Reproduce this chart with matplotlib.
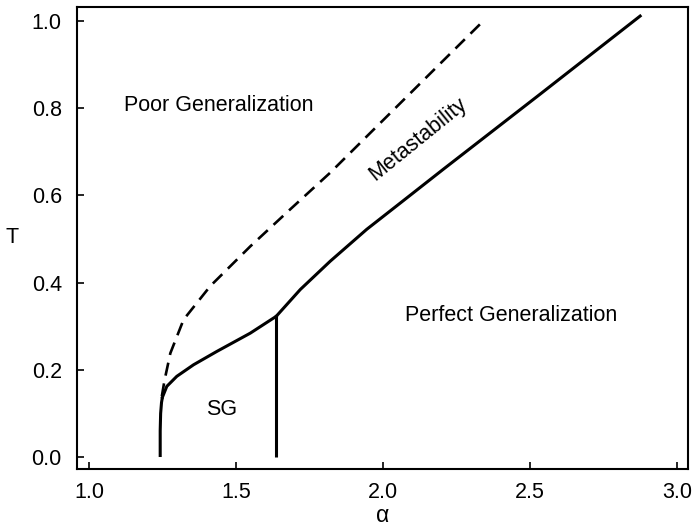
import matplotlib
matplotlib.use("Agg")
import matplotlib.pyplot as plt

plt.rcParams['font.family'] = ['Liberation Sans', 'DejaVu Sans']

# phase boundaries in the (alpha, T) plane
sg_left_a = [1.2415, 1.2415, 1.243, 1.246, 1.249]
sg_left_t = [0.0, 0.06, 0.10, 0.125, 0.137]

sg_top_a = [1.249, 1.264, 1.298, 1.355, 1.434, 1.548, 1.636]
sg_top_t = [0.137, 0.162, 0.185, 0.2115, 0.242, 0.284, 0.3225]

sg_right_a = [1.636, 1.636]
sg_right_t = [0.0, 0.3225]

perfect_a = [1.636, 1.718, 1.820, 1.944, 2.069, 2.205, 2.534, 2.874]
perfect_t = [0.3225, 0.384, 0.449, 0.522, 0.588, 0.660, 0.832, 1.011]

spinodal_a = [1.247, 1.256, 1.276, 1.321, 1.412, 1.548, 1.684, 1.820, 1.956, 2.194, 2.341]
spinodal_t = [0.139, 0.175, 0.238, 0.315, 0.392, 0.483, 0.568, 0.652, 0.743, 0.902, 1.0]

fig = plt.figure(figsize=(6.95, 5.3), dpi=100)
ax = fig.add_axes([0.111, 0.115, 0.879, 0.872])

lw = 2.2
ax.plot(sg_left_a, sg_left_t, color='black', lw=lw, solid_capstyle='butt')
ax.plot(sg_top_a, sg_top_t, color='black', lw=lw)
ax.plot(sg_right_a, sg_right_t, color='black', lw=lw, solid_capstyle='butt')
ax.plot(perfect_a, perfect_t, color='black', lw=lw)
ax.plot(spinodal_a, spinodal_t, color='black', lw=1.9, dashes=(5, 3))

fs = 15.5
ax.text(1.442, 0.805, 'Poor Generalization', fontsize=fs, ha='center', va='center')
ax.text(2.435, 0.324, 'Perfect Generalization', fontsize=fs, ha='center', va='center')
ax.text(1.451, 0.108, 'SG', fontsize=fs, ha='center', va='center')
ax.text(2.119, 0.729, 'Metastability', fontsize=fs, ha='center', va='center',
        rotation=39, rotation_mode='anchor')

ax.set_xlim(0.959, 3.037)
ax.set_ylim(-0.0276, 1.032)
ax.set_xticks([1.0, 1.5, 2.0, 2.5, 3.0])
ax.set_yticks([0.0, 0.2, 0.4, 0.6, 0.8, 1.0])
ax.set_xticklabels(['1.0', '1.5', '2.0', '2.5', '3.0'])
ax.set_yticklabels(['0.0', '0.2', '0.4', '0.6', '0.8', '1.0'])
ax.tick_params(direction='in', length=5, width=1.2, labelsize=fs)
ax.tick_params(axis='x', pad=9)
ax.tick_params(axis='y', pad=11)
for s in ax.spines.values():
    s.set_linewidth(1.5)

ax.set_xlabel('α', fontsize=fs + 1, labelpad=1)
ax.set_ylabel('T', fontsize=fs, rotation=0, labelpad=14, va='center')

fig.savefig('out.png', dpi=100)
